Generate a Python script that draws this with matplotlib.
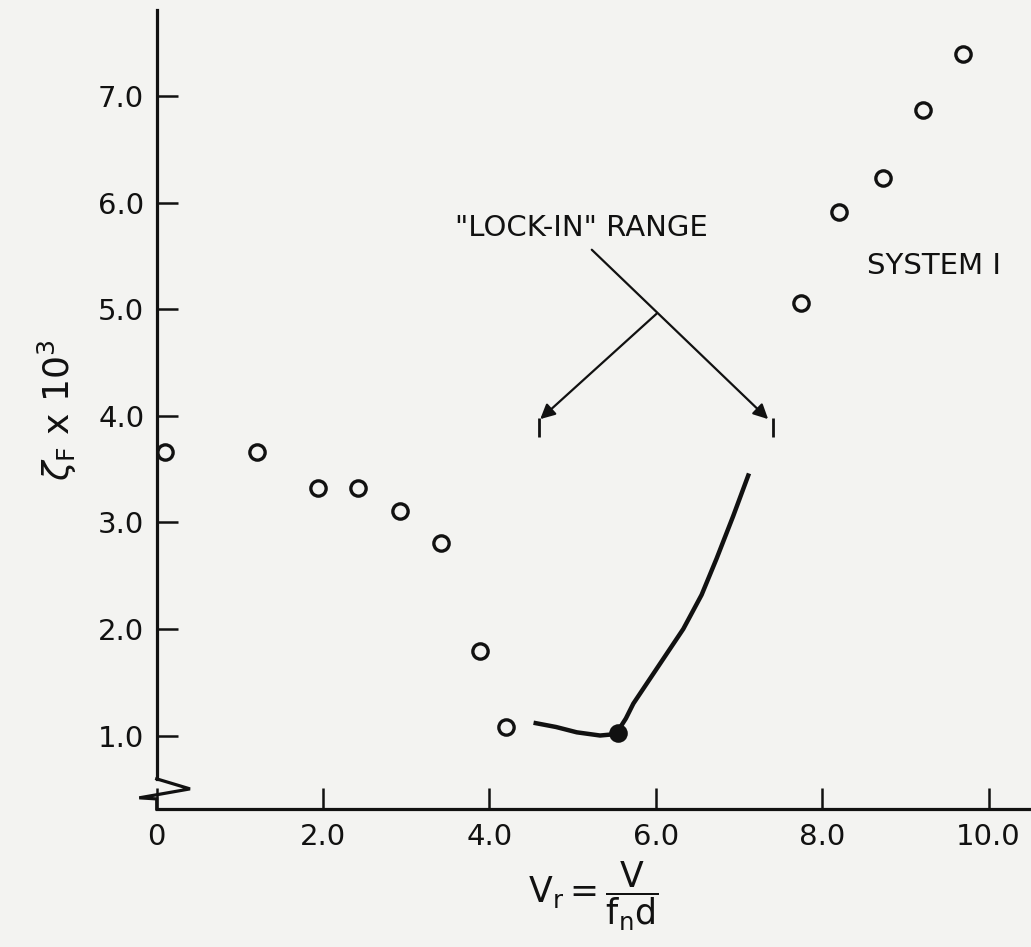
import matplotlib.pyplot as plt
import numpy as np

# values
vr_open = [0.10, 1.20, 1.94, 2.42, 2.92, 3.42, 3.89, 4.20, 7.75, 8.20, 8.73, 9.21, 9.69]
zeta_open = [3.66, 3.66, 3.32, 3.32, 3.11, 2.81, 1.79, 1.08, 5.06, 5.91, 6.23, 6.87, 7.40]
vr_filled = [5.55]
zeta_filled = [1.02]

# hand-drawn curve through the lock-in region
vr_curve = [4.53, 4.80, 5.05, 5.33, 5.47, 5.55, 5.64, 5.73, 6.03, 6.33, 6.55, 6.73, 6.93, 7.12]
zeta_curve = [1.12, 1.08, 1.03, 1.00, 1.01, 1.05, 1.16, 1.30, 1.65, 2.00, 2.32, 2.66, 3.06, 3.46]

xticks = [0, 2, 4, 6, 8, 10]
xticklabels = ['0', '2.0', '4.0', '6.0', '8.0', '10.0']
yticks = [1, 2, 3, 4, 5, 6, 7]
yticklabels = ['1.0', '2.0', '3.0', '4.0', '5.0', '6.0', '7.0']

# "lock-in" range limits and arrow geometry
lock_lo, lock_hi = 4.59, 7.41
bar_y = (3.80, 3.98)

bg = '#f3f3f1'
ink = '#111111'

fig = plt.figure(figsize=(10.31, 9.47), dpi=100, facecolor=bg)
ax = fig.add_axes([0.152, 0.1457, 0.848, 0.8437], facecolor=bg)

ax.plot(vr_curve, zeta_curve, color=ink, lw=3.2, solid_capstyle='butt',
        solid_joinstyle='round', zorder=2)
ax.plot(vr_open, zeta_open, 'o', ms=11, mfc='none', mec=ink, mew=2.4, clip_on=False, zorder=3)
ax.plot(vr_filled, zeta_filled, 'o', ms=11, mfc=ink, mec=ink, mew=2.4, zorder=3)

ax.set_xlim(0, 10.51)
ax.set_ylim(0.31, 7.81)

for s in ['top', 'right']:
    ax.spines[s].set_visible(False)
for s in ['bottom', 'left']:
    ax.spines[s].set_linewidth(2.3)
    ax.spines[s].set_color(ink)
ax.spines['left'].set_bounds(0.593, 7.81)

# axis break zigzag at bottom of y axis
brk_x = [0, 0.40, -0.21, 0, 0]
brk_y = [0.593, 0.499, 0.415, 0.405, 0.31]
ax.plot(brk_x, brk_y, color=ink, lw=2.3, clip_on=False, solid_joinstyle='miter')

ax.set_xticks(xticks)
ax.set_xticklabels(xticklabels)
ax.set_yticks(yticks)
ax.set_yticklabels(yticklabels)
ax.tick_params(axis='both', direction='in', length=15, width=1.8, colors=ink,
               labelsize=21, pad=9)
ax.tick_params(axis='x', pad=10)

ax.set_xlabel(r'$\mathrm{V_r} = \dfrac{\mathrm{V}}{\mathrm{f_n d}}$', fontsize=25,
              color=ink, labelpad=6)
ax.set_ylabel(r'$\zeta_\mathrm{F}$ x $10^3$', fontsize=26, color=ink, labelpad=14)

# annotations
ax.text(5.105, 5.76, '"LOCK-IN" RANGE', fontsize=21, color=ink, ha='center', va='center')
ax.text(8.54, 5.41, 'SYSTEM I', fontsize=21, color=ink, ha='left', va='center')

arrow = dict(arrowstyle='-|>', lw=1.6, color=ink, mutation_scale=22, shrinkA=0, shrinkB=0)
ax.annotate('', xy=(lock_hi - 0.06, 3.97), xytext=(5.23, 5.56), arrowprops=arrow)
ax.annotate('', xy=(lock_lo + 0.02, 3.97), xytext=(6.01, 4.96), arrowprops=arrow)
ax.vlines([lock_lo, lock_hi], bar_y[0], bar_y[1], color=ink, lw=2.0)

fig.savefig('out.png', dpi=100, facecolor=bg)
